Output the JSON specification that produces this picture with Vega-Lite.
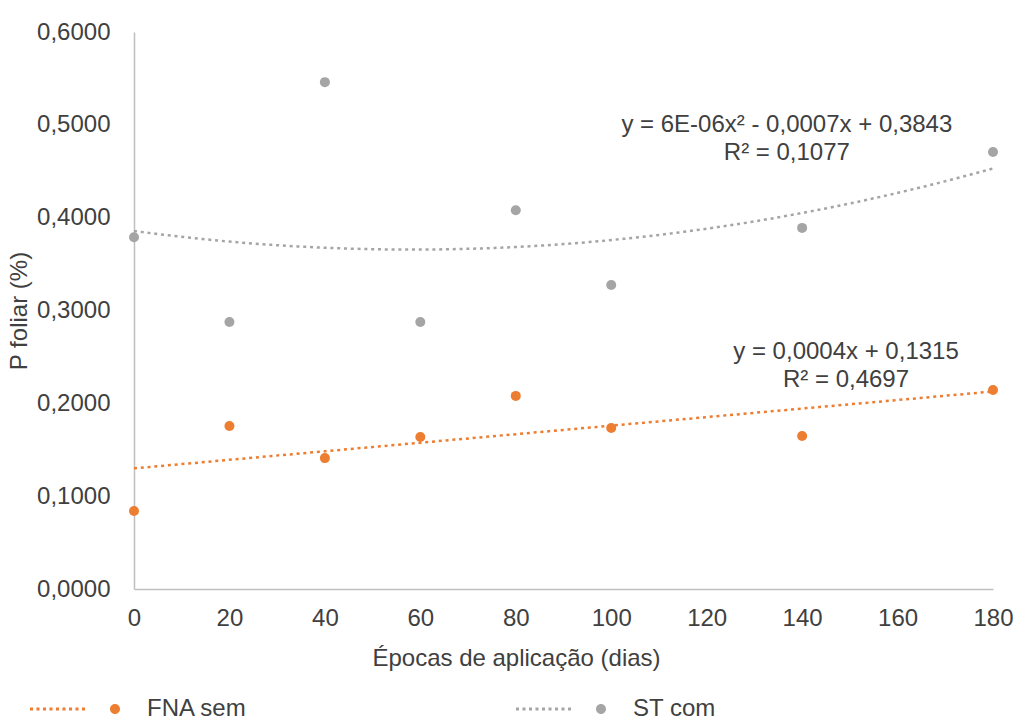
{
  "$schema": "https://vega.github.io/schema/vega-lite/v6.json",
  "width": 859,
  "height": 557,
  "autosize": "none",
  "padding": {"left": 134, "top": 32, "right": 24, "bottom": 133},
  "background": "white",
  "config": {
    "locale": {"number": {"decimal": ",", "thousands": ".", "grouping": [3], "currency": ["", ""]}},
    "view": {"stroke": null},
    "font": "Liberation Sans",
    "axis": {
      "grid": false,
      "ticks": false,
      "domainColor": "#bfbfbf",
      "domainWidth": 1.5,
      "labelFont": "Liberation Sans",
      "labelFontSize": 24,
      "labelColor": "#404040",
      "labelFlush": false,
      "labelOverlap": false,
      "titleFont": "Liberation Sans",
      "titleFontSize": 24,
      "titleFontWeight": "normal",
      "titleColor": "#404040"
    }
  },
  "datasets": {
    "pontos": [
      {"dias": 0, "p": 0.379, "serie": "ST com"},
      {"dias": 20, "p": 0.2876, "serie": "ST com"},
      {"dias": 40, "p": 0.546, "serie": "ST com"},
      {"dias": 60, "p": 0.2876, "serie": "ST com"},
      {"dias": 80, "p": 0.408, "serie": "ST com"},
      {"dias": 100, "p": 0.3275, "serie": "ST com"},
      {"dias": 140, "p": 0.389, "serie": "ST com"},
      {"dias": 180, "p": 0.4707, "serie": "ST com"},
      {"dias": 0, "p": 0.084, "serie": "FNA sem"},
      {"dias": 20, "p": 0.1756, "serie": "FNA sem"},
      {"dias": 40, "p": 0.141, "serie": "FNA sem"},
      {"dias": 60, "p": 0.1637, "serie": "FNA sem"},
      {"dias": 80, "p": 0.208, "serie": "FNA sem"},
      {"dias": 100, "p": 0.1734, "serie": "FNA sem"},
      {"dias": 140, "p": 0.1648, "serie": "FNA sem"},
      {"dias": 180, "p": 0.2144, "serie": "FNA sem"}
    ],
    "equacoes": [
      {"dias": 136.8, "p": 0.4998, "texto": "y = 6E-06x² - 0,0007x + 0,3843\nR² = 0,1077"},
      {"dias": 149.2, "p": 0.2553, "texto": "y = 0,0004x + 0,1315\nR² = 0,4697"}
    ]
  },
  "encoding": {
    "x": {
      "field": "dias",
      "type": "quantitative",
      "scale": {"domain": [0, 180], "nice": false},
      "axis": {
        "values": [0, 20, 40, 60, 80, 100, 120, 140, 160, 180],
        "title": "Épocas de aplicação (dias)",
        "labelPadding": 17,
        "titlePadding": 16,
        "titleX": 382
      }
    },
    "y": {
      "field": "p",
      "type": "quantitative",
      "scale": {"domain": [0, 0.6], "nice": false},
      "axis": {
        "values": [0, 0.1, 0.2, 0.3, 0.4, 0.5, 0.6],
        "format": ".4f",
        "title": "P foliar (%)",
        "labelPadding": 24,
        "titlePadding": 5
      }
    }
  },
  "layer": [
    {
      "data": {"name": "pontos"},
      "transform": [
        {"filter": "datum.serie === 'ST com'"},
        {"regression": "p", "on": "dias", "method": "poly", "order": 2, "extent": [0, 180]}
      ],
      "mark": {"type": "line", "color": "#a5a5a5", "strokeWidth": 2.5, "strokeDash": [3, 3.8]}
    },
    {
      "data": {"name": "pontos"},
      "transform": [
        {"filter": "datum.serie === 'FNA sem'"},
        {"regression": "p", "on": "dias", "method": "linear", "extent": [0, 180]}
      ],
      "mark": {"type": "line", "color": "#ed7d31", "strokeWidth": 2.5, "strokeDash": [3, 3.8]}
    },
    {
      "data": {"name": "pontos"},
      "mark": {"type": "circle", "size": 100, "opacity": 1},
      "encoding": {
        "color": {
          "field": "serie",
          "type": "nominal",
          "scale": {"domain": ["FNA sem", "ST com"], "range": ["#ed7d31", "#a5a5a5"]},
          "legend": {
            "title": null,
            "orient": "none",
            "legendX": -104,
            "legendY": 632,
            "direction": "horizontal",
            "padding": 0,
            "symbolType": "M-1,-0.033h0.067v0.067h-0.067z M-0.856,-0.033h0.067v0.067h-0.067z M-0.711,-0.033h0.067v0.067h-0.067z M-0.567,-0.033h0.067v0.067h-0.067z M-0.422,-0.033h0.067v0.067h-0.067z M-0.278,-0.033h0.067v0.067h-0.067z M-0.133,-0.033h0.067v0.067h-0.067z M0.011,-0.033h0.067v0.067h-0.067z M0.156,-0.033h0.067v0.067h-0.067z M1,0A0.111,0.111,0,1,1,0.778,0A0.111,0.111,0,1,1,1,0Z",
            "symbolSize": 8100,
            "symbolStrokeWidth": 0,
            "symbolOpacity": 1,
            "labelFont": "Liberation Sans",
            "labelFontSize": 24,
            "labelColor": "#404040",
            "labelOffset": 27,
            "columnPadding": 268
          }
        }
      }
    },
    {
      "data": {"name": "equacoes"},
      "mark": {
        "type": "text",
        "font": "Liberation Sans",
        "fontSize": 24,
        "color": "#404040",
        "align": "center",
        "baseline": "middle",
        "lineBreak": "\n",
        "lineHeight": 28
      },
      "encoding": {
        "text": {"field": "texto", "type": "nominal"}
      }
    }
  ]
}
